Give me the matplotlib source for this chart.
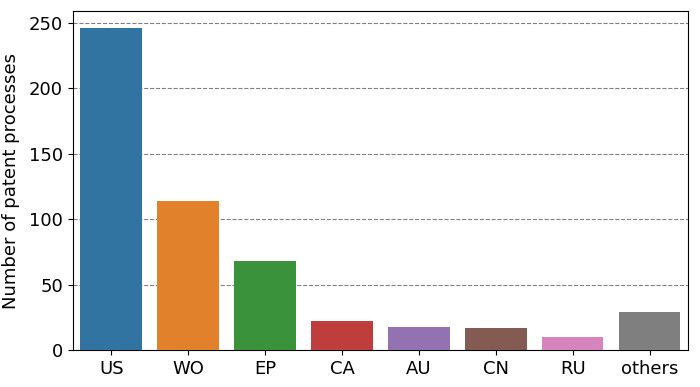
import matplotlib
matplotlib.use('Agg')
import matplotlib.pyplot as plt
import seaborn as sns
import numpy as np

countries = ['US', 'WO', 'EP', 'CA', 'AU', 'CN', 'RU', 'others']
counts = [246, 114, 68, 22, 18, 17, 10, 29]

colors = sns.color_palette('tab10', n_colors=len(countries), desat=0.75)

fig, ax = plt.subplots(figsize=(7, 3.87), dpi=100)
x = np.arange(len(countries))
ax.bar(x, counts, width=0.8, color=colors, zorder=3)
ax.set_xticks(x)
ax.set_xticklabels(countries, fontsize=13)
ax.tick_params(axis='y', labelsize=13)
ax.set_xlim(-0.5, len(countries) - 0.5)
ax.set_ylim(0, 259)
ax.set_yticks([0, 50, 100, 150, 200, 250])
ax.set_ylabel('Number of patent processes', fontsize=13, labelpad=6)
ax.yaxis.grid(True, linestyle='--', color='gray', linewidth=0.8, zorder=0)
ax.set_axisbelow(True)

plt.subplots_adjust(left=0.104, right=0.983, top=0.972, bottom=0.095)
plt.savefig('out.png')
